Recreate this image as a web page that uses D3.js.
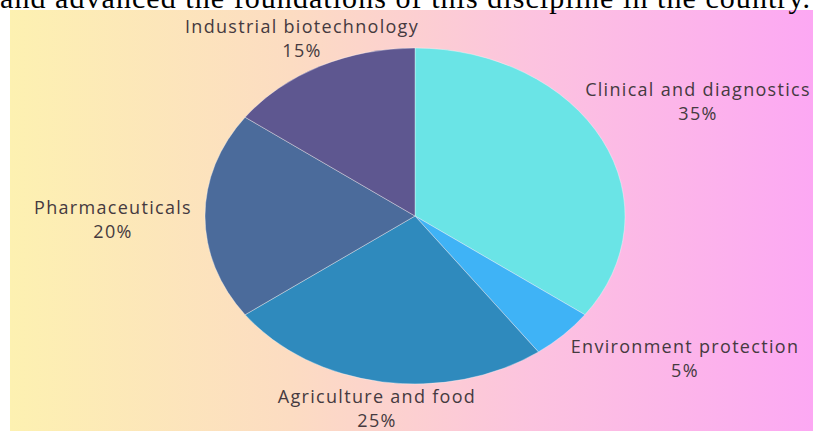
<!DOCTYPE html>
<html>
<head>
<meta charset="utf-8">
<script src="https://cdn.jsdelivr.net/npm/d3@7"></script>
<style>
  html, body { margin: 0; padding: 0; background: #fff; overflow: hidden; }
</style>
</head>
<body>
<script>
let width = 813;
let height = 431;

// chart data
let sectors = ["Clinical and diagnostics", "Environment protection", "Agriculture and food", "Pharmaceuticals", "Industrial biotechnology"];
let shares = [35, 5, 25, 20, 15];
let sliceColors = ["#6ae4e6", "#3fb3f6", "#2f8abd", "#4b6b9b", "#5e5790"];
// label anchor points (centre of label block), same order as sectors
let labelX = [698, 685, 377, 113, 302];
let labelY = [89, 346, 396, 207, 26];

let cx = 415, cy = 216, rx = 210, ry = 168;

let svg = d3.select("body").append("svg")
            .attr("width", width)
            .attr("height", height);

let defs = svg.append("defs");
let grad = defs.append("linearGradient").attr("id", "bg").attr("x1", "0").attr("x2", "1").attr("y1", "0").attr("y2", "0");
grad.append("stop").attr("offset", "0").attr("stop-color", "#fdf1b1");
grad.append("stop").attr("offset", "0.35").attr("stop-color", "#fcdcc2");
grad.append("stop").attr("offset", "0.65").attr("stop-color", "#fcc3df");
grad.append("stop").attr("offset", "1").attr("stop-color", "#fca8f3");

svg.append("rect")
   .attr("x", 10).attr("y", 10)
   .attr("width", width - 10).attr("height", height - 10)
   .attr("fill", "url(#bg)");

// clipped line of body text above the picture
svg.append("text")
   .attr("x", 0).attr("y", 8)
   .attr("font-family", "Liberation Serif, Times New Roman, serif")
   .attr("font-size", 30)
   .attr("fill", "#000")
   .attr("textLength", 810)
   .attr("lengthAdjust", "spacing")
   .text("and advanced the foundations of this discipline in the country.");

svg.append("rect")
   .attr("x", 0).attr("y", 10).attr("width", 10).attr("height", height - 10)
   .attr("fill", "#fff");

let pie = d3.pie().sort(null).value(function(d) { return d; });
let arc = d3.arc().innerRadius(0).outerRadius(rx);

let pieGroup = svg.append("g")
                  .attr("transform", "translate(" + cx + "," + cy + ") scale(1," + (ry / rx) + ")");

pieGroup.selectAll("path")
        .data(pie(shares))
        .join("path")
        .attr("d", arc)
        .attr("fill", function(d, i) { return sliceColors[i]; })
        .attr("stroke", "rgba(255,255,255,0.35)")
        .attr("stroke-width", 1)
        .attr("vector-effect", "non-scaling-stroke");

let labels = svg.append("g")
                .attr("font-family", "Open Sans, sans-serif")
                .attr("font-size", 18)
                .attr("letter-spacing", 1.3)
                .attr("fill", "#453a40")
                .attr("text-anchor", "middle");

sectors.forEach(function(name, i) {
  let t = labels.append("text")
                .attr("x", labelX[i])
                .attr("y", labelY[i] + 7);
  t.append("tspan").attr("x", labelX[i]).text(name);
  t.append("tspan").attr("x", labelX[i]).attr("dy", 24).text(shares[i] + "%");
});
</script>
</body>
</html>
